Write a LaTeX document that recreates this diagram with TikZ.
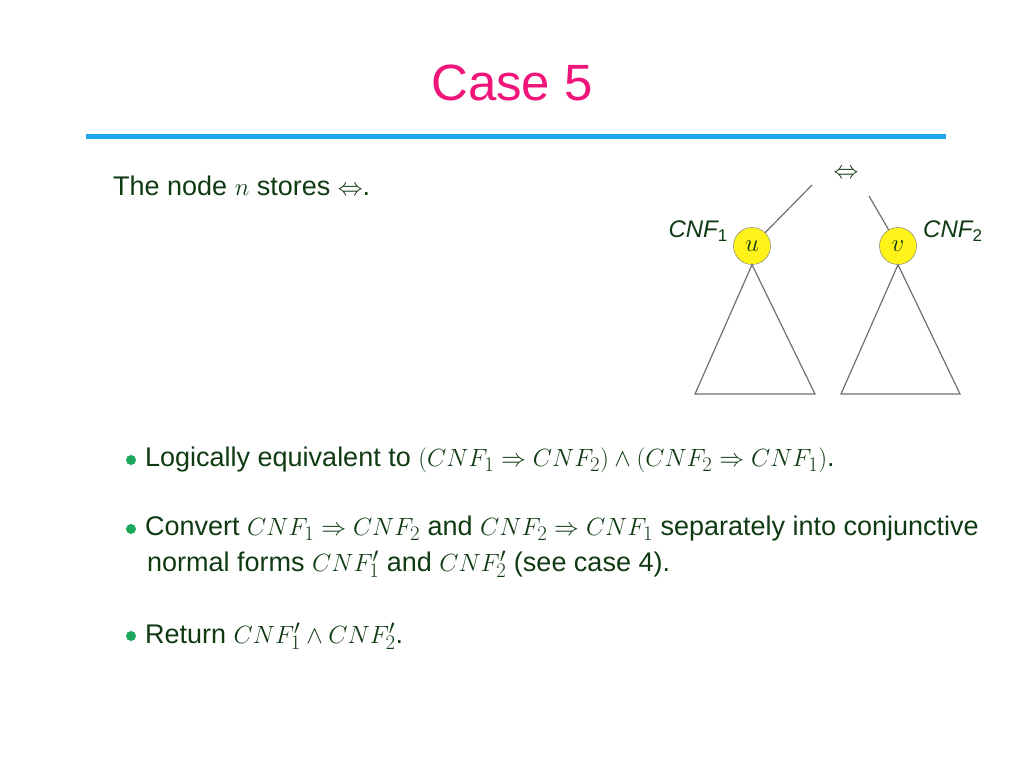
\documentclass[tikz,border=0pt]{standalone}
\usepackage{fontspec}
\setmainfont{Liberation Sans}
\definecolor{txt}{HTML}{0F3A12}
\definecolor{ttl}{HTML}{F0157A}
\definecolor{bar}{HTML}{1AA7EC}
\definecolor{bul}{HTML}{1BA85A}
\definecolor{ln}{HTML}{707070}
\newcommand{\mm}[1]{{\fontsize{31}{32}\selectfont$#1$}}
\begin{document}
\begin{tikzpicture}[x=1pt,y=-1pt,
  body/.style={font=\fontsize{27}{32}\selectfont,text=txt,anchor=west,inner sep=0},
  vtx/.style={circle,draw=ln,fill=yellow!90!white,minimum size=37,inner sep=0,font=\fontsize{32}{32}\selectfont,text=txt},
  lbl/.style={font=\fontsize{24}{24}\selectfont\itshape,text=txt,inner sep=0},
  edge/.style={draw=ln,line width=1.2}]
\useasboundingbox (0,0) rectangle (1024,768);
\node[font=\fontsize{51}{51}\selectfont,text=ttl] (title) at (512,83) {Case 5};
\draw[bar,line width=5] (86,136) -- (946,136);
\node[body] (t1) at (113,186) {The node \mm{n} stores \mm{\Leftrightarrow}.};
\node[text=txt,font=\fontsize{36}{36}\selectfont,inner sep=0] (root) at (846,174) {$\Leftrightarrow$};
\node[vtx] (u) at (752,246) {$u$};
\node[vtx] (v) at (898,246) {$v$};
\node[lbl,anchor=east] (l1) at (728,231) {CNF\textsubscript{\upshape\fontsize{17}{17}\selectfont 1}};
\node[lbl,anchor=west] (l2) at (923,231) {CNF\textsubscript{\upshape\fontsize{17}{17}\selectfont 2}};
\coordinate (ra) at (812,185);
\coordinate (rb) at (869,196);
\draw[edge] (ra) -- (u);
\draw[edge] (rb) -- (v);
\coordinate (ul) at (695,394); \coordinate (ur) at (815,394);
\coordinate (vl) at (841,394); \coordinate (vr) at (960,394);
\draw[edge] (u.south) -- (ul) -- (ur) -- cycle;
\draw[edge] (v.south) -- (vl) -- (vr) -- cycle;
\foreach \y/\n in {460/b1,529/b2,636/b3} \fill[bul] (131,\y) circle (5);
\node[body] (p1) at (145,460) {Logically equivalent to \mm{(CNF_1\Rightarrow CNF_2)\wedge(CNF_2\Rightarrow CNF_1)}.};
\node[body] (p2) at (145,529) {Convert \mm{CNF_1\Rightarrow CNF_2} and \mm{CNF_2\Rightarrow CNF_1} separately into conjunctive};
\node[body] (p2b) at (147,564) {normal forms \mm{CNF_1'} and \mm{CNF_2'} (see case 4).};
\node[body] (p3) at (145,636) {Return \mm{CNF_1'\wedge CNF_2'}.};
\end{tikzpicture}
\end{document}
